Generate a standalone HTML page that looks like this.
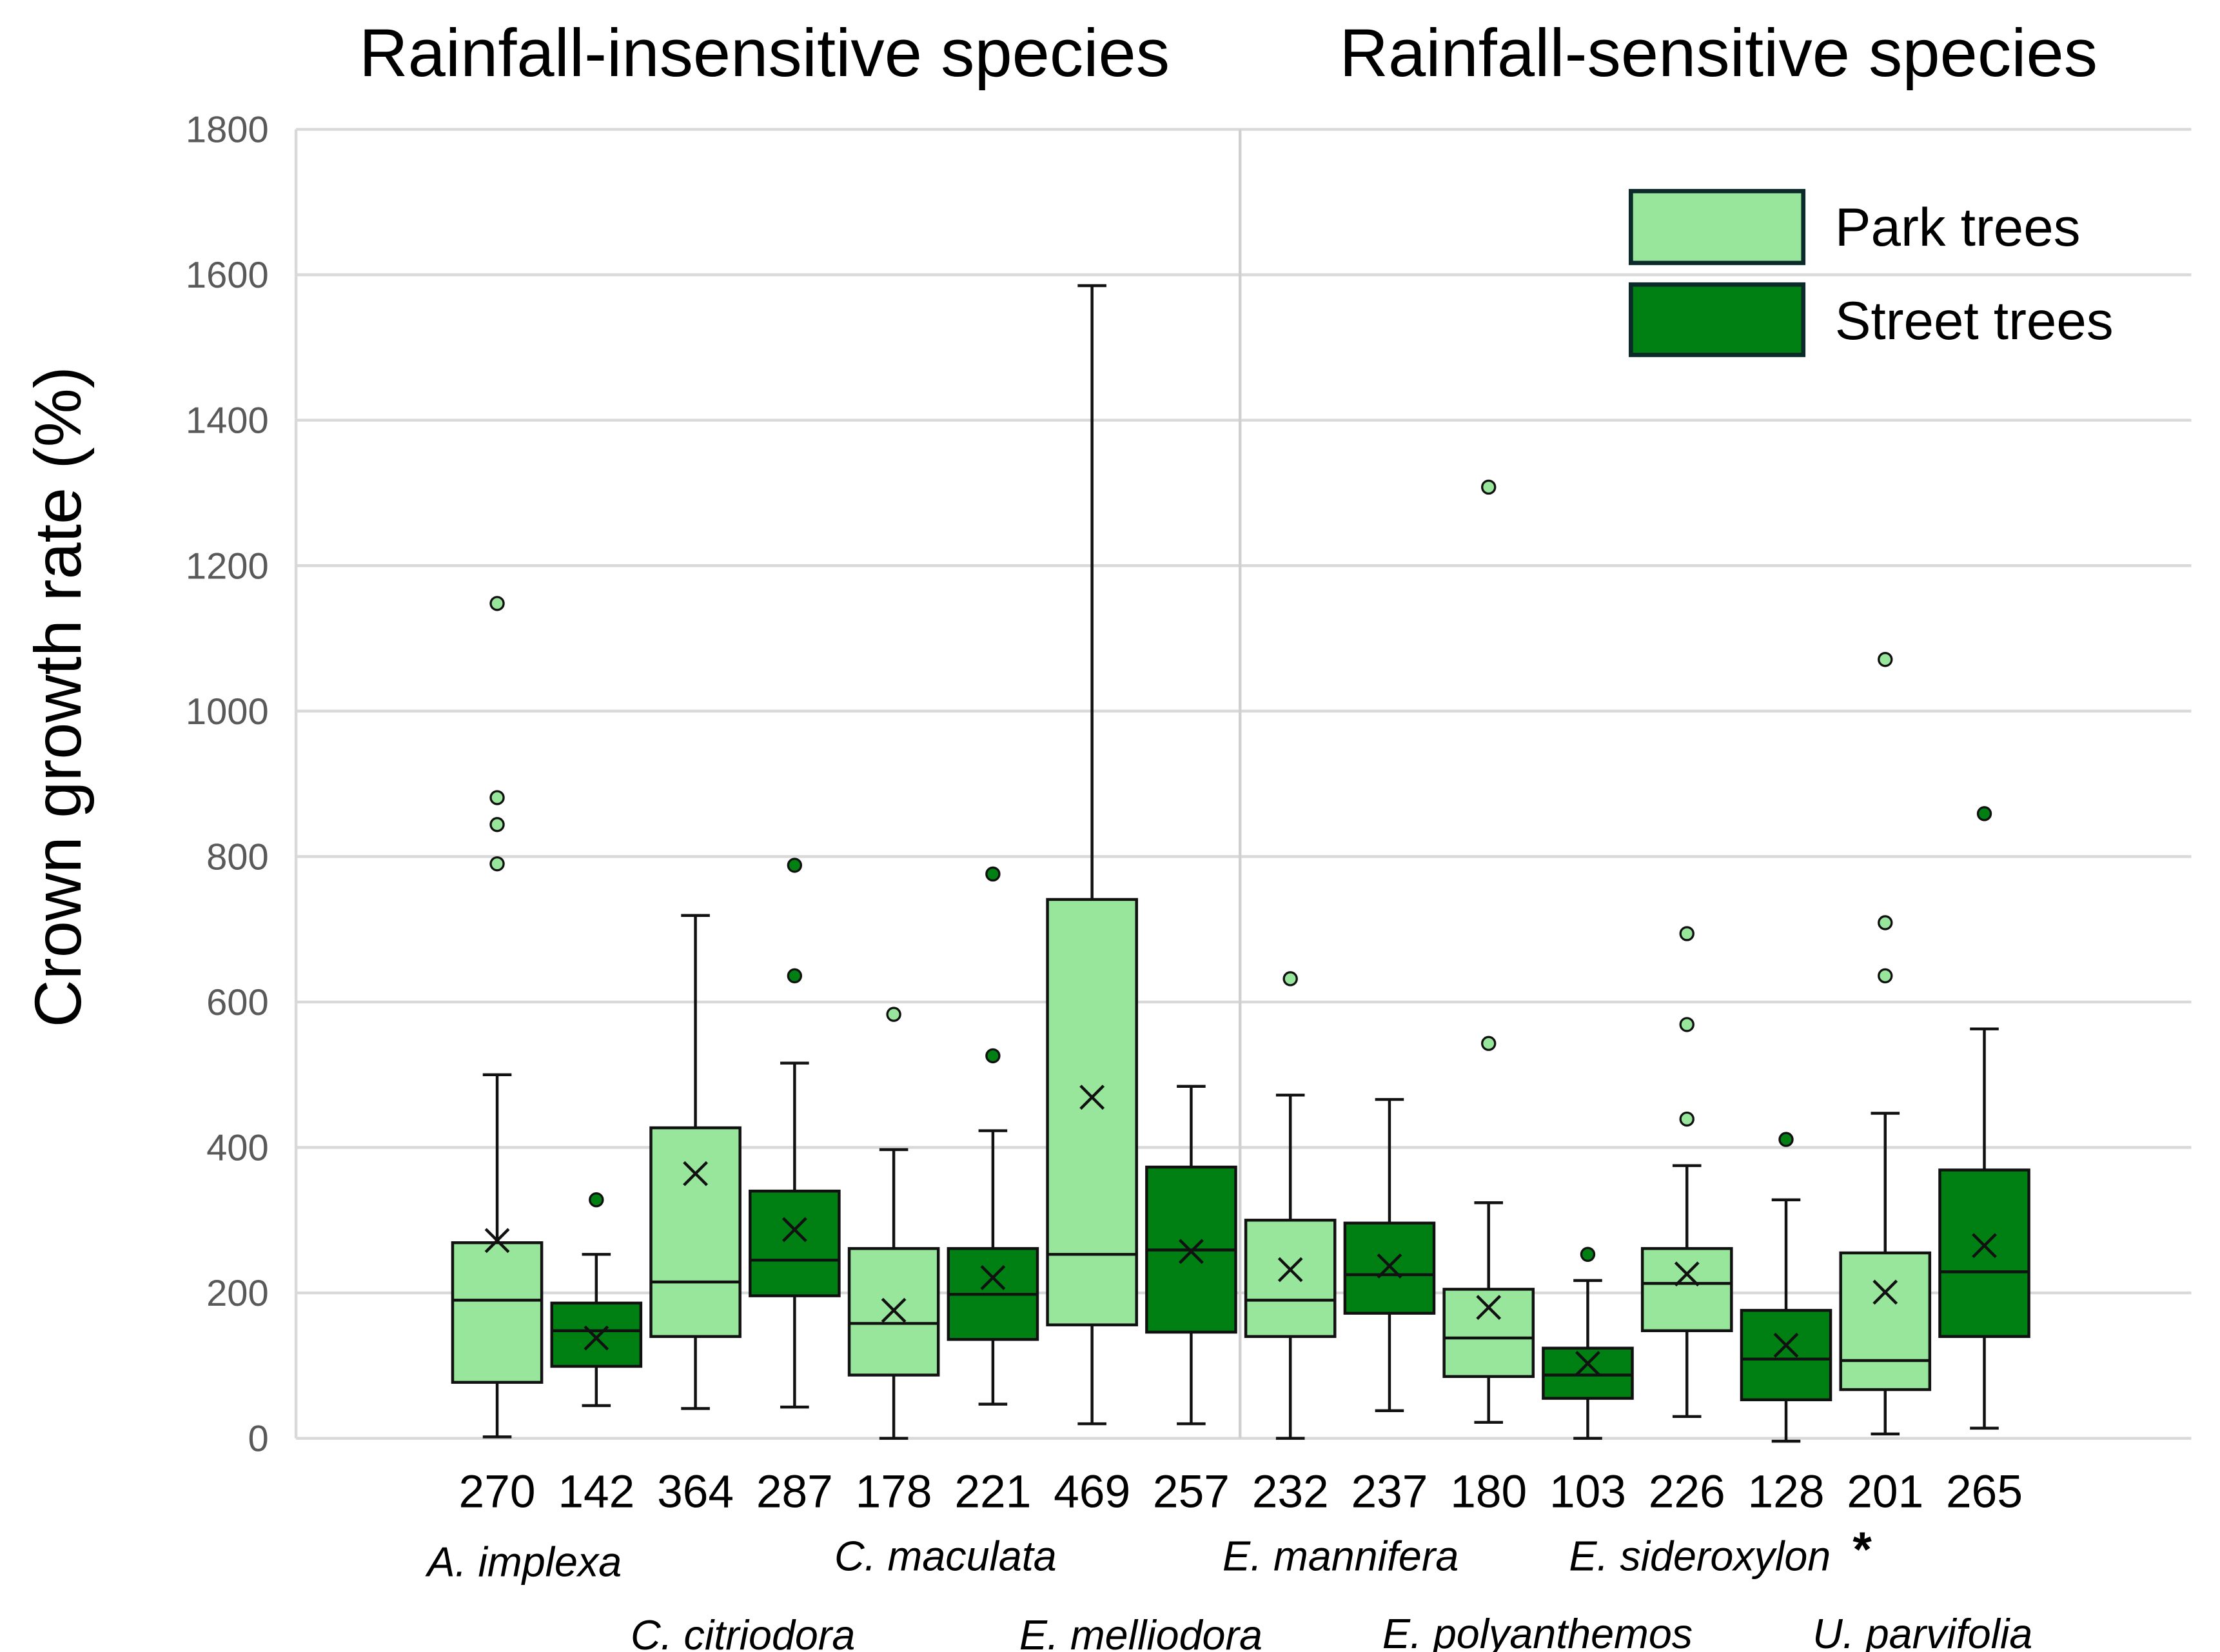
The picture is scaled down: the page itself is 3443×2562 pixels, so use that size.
<!DOCTYPE html>
<html><head><meta charset="utf-8"><style>
html,body{margin:0;padding:0;background:#fff;}
svg{display:block;font-family:"Liberation Sans",sans-serif;}
</style></head><body>
<svg id="chart" width="3443" height="2562" viewBox="0 0 1545 1149.7" preserveAspectRatio="none" xmlns="http://www.w3.org/2000/svg">
<g id="grid"></g>
<g id="ticks"></g>
<line x1="863" y1="90" x2="863" y2="1001" stroke="#d0d0d0" stroke-width="2"/>
<g id="boxes"></g>
<text x="532" y="53" font-size="47" text-anchor="middle">Rainfall-insensitive species</text>
<text x="1196" y="53" font-size="47" text-anchor="middle">Rainfall-sensitive species</text>
<text transform="translate(56,485) rotate(-90)" font-size="46" text-anchor="middle">Crown growth rate (%)</text>
<g>
<rect x="1135" y="133" width="120" height="50" fill="#98e69c" stroke="#0d2a2a" stroke-width="3"/>
<text x="1277" y="171" font-size="37.5">Park trees</text>
<rect x="1135" y="198" width="120" height="49" fill="#007f12" stroke="#0d2a2a" stroke-width="3"/>
<text x="1277" y="236" font-size="37.5">Street trees</text>
</g>
<g id="labels"></g>
</svg>
<script>
const yTicks=[0,200,400,600,800,1000,1200,1400,1600,1800];
const counts=[270,142,364,287,178,221,469,257,232,237,180,103,226,128,201,265];
const whiskerMax=[500,253,719,516,397,423,1585,484,472,466,324,217,375,328,447,563];
const q3=[269,186,427,340,261,261,741,373,300,296,205,124,261,176,255,369];
const medians=[190,148,215,245,158,198,253,259,190,225,138,87,213,109,107,229];
const q1=[77,99,140,196,87,136,156,146,140,172,85,55,148,53,67,140];
const whiskerMin=[2,45,41,43,0,47,20,20,0,38,22,0,30,-4,6,14];
const means=[272,138,364,287,176,221,469,257,232,237,180,103,226,128,201,265];
const outliers=[[1148,881,844,790],[328],[],[788,636],[583],[776,526],[],[],[632],[],[1308,543],[253],[694,569,439],[411],[1071,709,636],[859]];
const species=["A. implexa","C. citriodora","C. maculata","E. melliodora","E. mannifera","E. polyanthemos","E. sideroxylon","U. parvifolia"];
const NS="http://www.w3.org/2000/svg";
const y=v=>1001-v*(911/1800);
const x=i=>346+i*69;
function mk(tag,attrs,parent){const e=document.createElementNS(NS,tag);for(const k in attrs)e.setAttribute(k,attrs[k]);parent.appendChild(e);return e;}
const grid=document.getElementById('grid'),ticks=document.getElementById('ticks'),boxes=document.getElementById('boxes'),labels=document.getElementById('labels');
yTicks.forEach(t=>{
  const l=mk('line',{x1:206,x2:1525,y1:y(t),y2:y(t),stroke:'#d9d9d9','stroke-width':2},grid);
  
  
  const tx=mk('text',{x:187,y:y(t)+9,'font-size':26,'text-anchor':'end',fill:'#595959'},ticks);
  tx.textContent=t;
  
  
});
const ax=mk('line',{x1:206,x2:206,y1:90,y2:1001,stroke:'#d9d9d9','stroke-width':2},grid);


counts.forEach((c,i)=>{
  const cx=x(i),street=i%2===1,fill=street?'#007f12':'#98e69c';
  const g=mk('g',{},boxes);
  
  
  const st={stroke:'#111','stroke-width':2};
  mk('line',Object.assign({x1:cx,x2:cx,y1:y(whiskerMax[i]),y2:y(q3[i])},st),g);
  mk('line',Object.assign({x1:cx,x2:cx,y1:y(q1[i]),y2:y(whiskerMin[i])},st),g);
  mk('line',Object.assign({x1:cx-10,x2:cx+10,y1:y(whiskerMax[i]),y2:y(whiskerMax[i])},st),g);
  mk('line',Object.assign({x1:cx-10,x2:cx+10,y1:y(whiskerMin[i]),y2:y(whiskerMin[i])},st),g);
  mk('rect',Object.assign({x:cx-31,width:62,y:y(q3[i]),height:y(q1[i])-y(q3[i]),fill:fill},st),g);
  mk('line',Object.assign({x1:cx-31,x2:cx+31,y1:y(medians[i]),y2:y(medians[i])},st),g);
  const my=y(means[i]);
  mk('path',{d:`M${cx-8} ${my-8}L${cx+8} ${my+8}M${cx-8} ${my+8}L${cx+8} ${my-8}`,stroke:'#111','stroke-width':2,fill:'none'},g);
  outliers[i].forEach(o=>{
    const d=mk('circle',{cx:cx,cy:y(o),r:4.5,fill:fill,stroke:'#111','stroke-width':1.5},g);
    
    
  });
  const t=mk('text',{x:cx,y:1049,'font-size':32,'text-anchor':'middle'},labels);
  t.textContent=c;
  
  
});
const spX=[365,517,658,794,933,1070,1183,1338];
const spY=[1097,1148,1093,1148,1093,1147,1093,1147];
species.forEach((s,k)=>{
  const t=mk('text',{x:spX[k],y:spY[k],'font-size':29,'font-style':'italic','text-anchor':'middle'},labels);
  t.textContent=s;
  
  
});
const a=mk('text',{x:1296,y:1090,'font-size':34,'text-anchor':'middle','font-weight':'bold'},labels);
a.textContent='*';


</script>
</body></html>
